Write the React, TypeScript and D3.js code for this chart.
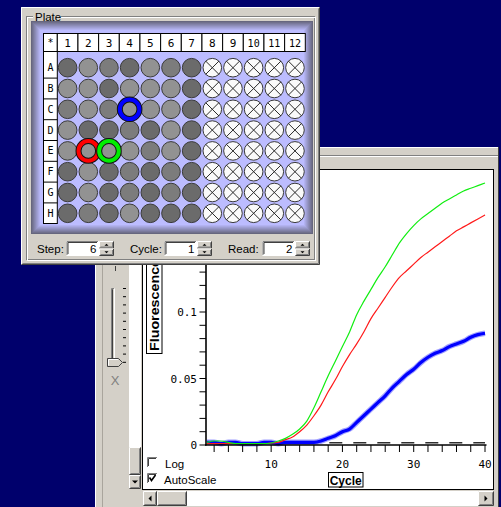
import React from "react";
import * as d3 from "d3";

// chart data
const cycles = [1, 2, 3, 4, 5, 6, 7, 8, 9, 10, 11, 12, 13, 14, 15, 16, 17, 18, 19, 20,
  21, 22, 23, 24, 25, 26, 27, 28, 29, 30, 31, 32, 33, 34, 35, 36, 37, 38, 39, 40];
const greenValues = [0.002, 0.003, 0.003, 0.002, 0.001, 0.001, 0.001, 0.001, 0.001, 0.0015,
  0.003, 0.005, 0.008, 0.012, 0.018, 0.028, 0.04, 0.052, 0.063, 0.074,
  0.085, 0.098, 0.108, 0.117, 0.126, 0.134, 0.143, 0.152, 0.159, 0.165,
  0.17, 0.174, 0.178, 0.182, 0.185, 0.188, 0.191, 0.193, 0.195, 0.197];
const redValues = [0.001, 0.001, 0.001, 0.001, 0.001, 0.001, 0.001, 0.001, 0.001, 0.0015,
  0.002, 0.004, 0.006, 0.01, 0.015, 0.022, 0.03, 0.04, 0.049, 0.059,
  0.068, 0.076, 0.085, 0.095, 0.103, 0.111, 0.119, 0.126, 0.131, 0.136,
  0.141, 0.145, 0.149, 0.153, 0.157, 0.161, 0.164, 0.167, 0.17, 0.173];
const blueValues = [0.002, 0.002, 0.001, 0.002, 0.002, 0.001, 0.001, 0.001, 0.002, 0.002,
  0.001, 0.002, 0.002, 0.002, 0.002, 0.002, 0.003, 0.005, 0.007, 0.01,
  0.012, 0.017, 0.022, 0.027, 0.032, 0.037, 0.043, 0.048, 0.053, 0.057,
  0.062, 0.066, 0.069, 0.071, 0.074, 0.076, 0.078, 0.081, 0.083, 0.084];
const threshold = 0.0017;
const xLabelTicks = [10, 20, 30, 40];
const yLabelTicks = [0, 0.05, 0.1];

// plate data
const plateRows = ["A", "B", "C", "D", "E", "F", "G", "H"];
const plateCols = ["1", "2", "3", "4", "5", "6", "7", "8", "9", "10", "11", "12"];
const wellShades = ["dlmdlmd", "lldllld", "mlmllld", "lddmdld", "llllmld", "dldmdmd", "dldmdmd", "dmdlddd"];
const shadeColors: Record<string, string> = { d: "#6b6b6b", m: "#7c7c7c", l: "#929292" };
const selectedWells = [
  { row: "C", col: "4", color: "#0000ff" },
  { row: "E", col: "2", color: "#ff0000" },
  { row: "E", col: "3", color: "#00ee00" },
];
const controls = [
  { label: "Step:", value: "6" },
  { label: "Cycle:", value: "1" },
  { label: "Read:", value: "2" },
];

const FACE = "#d4d0c8";
const SANS = "'Liberation Sans', Arial, sans-serif";
const MONO = "'DejaVu Sans Mono', monospace";

const Raised = ({ x, y, w, h }: { x: number; y: number; w: number; h: number }) => (
  <g>
    <rect x={x} y={y} width={w} height={h} fill={FACE} />
    <path d={`M${x + 0.5},${y + h - 1} V${y + 0.5} H${x + w - 1}`} stroke="#fff" fill="none" />
    <path d={`M${x + 0.5},${y + h - 0.5} H${x + w - 0.5} V${y + 0.5}`} stroke="#404040" fill="none" />
    <path d={`M${x + 1.5},${y + h - 1.5} H${x + w - 1.5} V${y + 1.5}`} stroke="#808080" fill="none" />
  </g>
);

const Sunken = ({ x, y, w, h, fill = "#fff" }: { x: number; y: number; w: number; h: number; fill?: string }) => (
  <g>
    <rect x={x} y={y} width={w} height={h} fill={fill} />
    <path d={`M${x + 0.5},${y + h - 1} V${y + 0.5} H${x + w - 1}`} stroke="#808080" fill="none" />
    <path d={`M${x + 1.5},${y + h - 2} V${y + 1.5} H${x + w - 2}`} stroke="#404040" fill="none" />
    <path d={`M${x + 0.5},${y + h - 0.5} H${x + w - 0.5} V${y + 0.5}`} stroke="#fff" fill="none" />
  </g>
);

const tri = (cx: number, cy: number, dir: string, s = 3) => {
  if (dir === "up") return `M${cx - s},${cy + s / 2} L${cx + s},${cy + s / 2} L${cx},${cy - s / 2}Z`;
  if (dir === "down") return `M${cx - s},${cy - s / 2} L${cx + s},${cy - s / 2} L${cx},${cy + s / 2}Z`;
  if (dir === "left") return `M${cx + s / 2},${cy - s} L${cx + s / 2},${cy + s} L${cx - s / 2},${cy}Z`;
  return `M${cx - s / 2},${cy - s} L${cx - s / 2},${cy + s} L${cx + s / 2},${cy}Z`;
};

export default function App() {
  const x = d3.scaleLinear().domain([1, 40]).range([207, 485]);
  const y = d3.scaleLinear().domain([0, 0.2]).range([445, 179]);
  const line = d3
    .line<number>()
    .x((d, i) => x(cycles[i]))
    .y((d) => y(d))
    .curve(d3.curveMonotoneX);

  const col = d3.scaleBand<string>().domain(plateCols).range([57.3, 305.3]);
  const row = d3.scaleBand<string>().domain(plateRows).range([57.3, 223.7]);
  const cw = col.bandwidth();
  const rh = row.bandwidth();
  const r = 9.3;

  const bevel = d3.range(10).map((i) => d3.interpolateRgb("#66667e", "#bcbcff")(i / 9));

  return (
    <svg width={501} height={507} style={{ position: "absolute", left: 0, top: 0, display: "block" }}>
      <defs>
        <clipPath id="plotClip">
          <rect x={143} y={170} width={350} height={319} />
        </clipPath>
      </defs>
      <rect width={501} height={507} fill="#00006c" />

      {/* ---------- amplification window ---------- */}
      <rect x={95} y={147} width={404} height={360} fill={FACE} />
      <line x1={95} x2={499} y1={147.5} y2={147.5} stroke="#fff" />
      <line x1={95.5} x2={95.5} y1={147} y2={507} stroke="#fff" />
      <line x1={498.5} x2={498.5} y1={147} y2={507} stroke="#404040" />
      <line x1={96} x2={498} y1={155.5} y2={155.5} stroke="#808080" />
      <line x1={96} x2={498} y1={156.5} y2={156.5} stroke="#fff" />
      <line x1={102.5} x2={102.5} y1={157} y2={507} stroke="#a9a59d" />

      {/* slider */}
      <path d="M115.5,266 V271" stroke="#404040" />
      <Sunken x={111} y={288} w={4} h={78} fill={FACE} />
      {d3.range(10).map((i) => (
        <line key={i} x1={123} x2={126} y1={288.5 + i * 8.2} y2={288.5 + i * 8.2} stroke="#000" />
      ))}
      <path d="M107.5,358.5 H118.5 L122.5,362.5 L118.5,366.5 H107.5 Z" fill={FACE} stroke="#404040" />
      <path d="M108.5,365.5 V359.5 H118" stroke="#fff" fill="none" />
      <text x={115} y={385} textAnchor="middle" fontFamily={SANS} fontSize={13} fill="#808080">X</text>

      {/* vertical scrollbar */}
      <rect x={129} y={157} width={12} height={290} fill="#fff" />
      <Raised x={129} y={447} w={12} h={28} />
      <Raised x={129} y={475} w={12} h={14} />
      <path d={tri(135, 482, "down", 3)} fill="#000" />

      {/* chart panel */}
      <rect x={142.5} y={169.5} width={351} height={320} fill="#fff" stroke="#000" />

      {/* horizontal scrollbar */}
      <rect x={143} y={491} width={351} height={15} fill="#fff" />
      <Raised x={143} y={491} w={14} h={15} />
      <path d={tri(150, 498.5, "left", 3)} fill="#000" />
      <Raised x={157} y={491} w={30} h={15} />
      <Raised x={478} y={491} w={16} h={15} />
      <path d={tri(486, 498.5, "right", 3)} fill="#000" />

      {/* threshold */}
      <line x1={x(1)} x2={x(40)} y1={y(threshold)} y2={y(threshold)} stroke="#303030" strokeWidth={1.3}
        strokeDasharray="13 11" strokeDashoffset={21.7} />

      {/* curves */}
      <g clipPath="url(#plotClip)" fill="none">
        <path d={line(blueValues) ?? ""} stroke="#7777ff" strokeWidth={5.5} strokeOpacity={0.7} />
        <path d={line(blueValues) ?? ""} stroke="#0000ff" strokeWidth={3.2} />
        <path d={line(redValues) ?? ""} stroke="#ff1a1a" strokeWidth={1.2} />
        <path d={line(greenValues) ?? ""} stroke="#11ee11" strokeWidth={1.2} />
      </g>

      {/* axes */}
      <line x1={206} x2={206} y1={y(0.2)} y2={y(0) + 0.5} stroke="#000" strokeWidth={1.6} />
      <line x1={205} x2={486.5} y1={y(0)} y2={y(0)} stroke="#000" strokeWidth={1.6} />
      {y.ticks(20).map((t) => (
        <line key={t} x1={199.5} x2={206} y1={y(t)} y2={y(t)} stroke="#000" />
      ))}
      {yLabelTicks.map((t) => (
        <text key={t} x={197} y={y(t) + 4} textAnchor="end" fontFamily={MONO} fontSize={11} fill="#000">
          {d3.format("~g")(t)}
        </text>
      ))}
      {x.ticks(20).map((t) => (
        <line key={t} x1={x(t)} x2={x(t)} y1={y(0)} y2={y(0) + 7} stroke="#000" />
      ))}
      {xLabelTicks.map((t) => (
        <text key={t} x={x(t)} y={468} textAnchor="middle" fontFamily={MONO} fontSize={11} fill="#000">
          {t}
        </text>
      ))}

      {/* axis titles */}
      <rect x={146.5} y={240.5} width={15.5} height={113} fill="#fff" stroke="#000" />
      <text transform="translate(158.5,351) rotate(-90)" fontFamily={SANS} fontSize={12.5} fontWeight="bold"
        textLength={92} lengthAdjust="spacingAndGlyphs" fill="#000">
        Fluorescence
      </text>
      <rect x={328.5} y={472.5} width={34.5} height={14.5} fill="#fff" stroke="#000" />
      <text x={345.7} y={484.5} textAnchor="middle" fontFamily={SANS} fontSize={12} fontWeight="bold" fill="#000">
        Cycle
      </text>

      {/* checkboxes */}
      <Sunken x={147} y={457} w={11} h={11} />
      <text x={165} y={467.5} fontFamily={SANS} fontSize={11.5} fill="#000">Log</text>
      <Sunken x={147} y={473} w={11} h={11} />
      <path d="M149.5,477.5 L151.5,480.5 L155.5,475" stroke="#000" strokeWidth={1.6} fill="none" />
      <text x={164} y={483.5} fontFamily={SANS} fontSize={11.5} fill="#000">AutoScale</text>

      {/* ---------- plate window ---------- */}
      <rect x={21} y={7} width={299} height={258} fill={FACE} />
      <path d="M21.5,264 V7.5 H319" stroke="#fff" fill="none" />
      <path d="M21.5,264.5 H319.5 V7.5" stroke="#404040" fill="none" />
      <path d="M22.5,263.5 H318.5 V8.5" stroke="#808080" fill="none" />
      <rect x={26.5} y={16.5} width={288} height={243} fill="none" stroke="#808080" />
      <rect x={27.5} y={17.5} width={288} height={243} fill="none" stroke="#fff" />
      <rect x={33} y={12} width={28} height={10} fill={FACE} />
      <text x={35} y={20.5} fontFamily={SANS} fontSize={11.5} fill="#000">Plate</text>

      {bevel.map((c, i) => (
        <rect key={i} x={31.5 + i} y={21.5 + i} width={281 - 2 * i} height={212 - 2 * i} fill="none" stroke={c} />
      ))}
      <rect x={41} y={31} width={263} height={193} fill="#bcbcff" />

      {/* header cells */}
      <rect x={43.5} y={33.5} width={13.8} height={18} fill="#fff" stroke="#000" />
      <text x={50.4} y={46} textAnchor="middle" fontFamily={MONO} fontSize={10} fill="#000">*</text>
      {plateCols.map((c) => (
        <g key={c}>
          <rect x={col(c)!} y={33.5} width={cw} height={18} fill="#fff" stroke="#000" />
          <text x={col(c)! + cw / 2} y={46.5} textAnchor="middle" fontFamily={MONO} fontSize={c.length > 1 ? 10 : 11}
            fill="#000">{c}</text>
        </g>
      ))}
      <rect x={43.5} y={51.5} width={13.8} height={172} fill="#fff" stroke="#000" />
      {plateRows.map((rw) => (
        <g key={rw}>
          {rw !== "A" && (
            <line x1={43.5} x2={57.3} y1={row(rw)!} y2={row(rw)!} stroke="#000" />
          )}
          <text x={50.4} y={row(rw)! + rh / 2 + 3.5} textAnchor="middle" fontFamily={MONO} fontSize={10}
            fill="#000">{rw}</text>
        </g>
      ))}

      {/* wells */}
      {plateRows.map((rw, ri) =>
        plateCols.map((c, ci) => {
          const cx = col(c)! + cw / 2;
          const cy = row(rw)! + rh / 2;
          const shade = wellShades[ri][ci];
          if (shade) {
            return <circle key={rw + c} cx={cx} cy={cy} r={r} fill={shadeColors[shade]} stroke="#3a3a3a" />;
          }
          const k = r * 0.72;
          return (
            <g key={rw + c}>
              <circle cx={cx} cy={cy} r={r} fill="#fafafa" stroke="#3a3a3a" />
              <path d={`M${cx - k},${cy - k} L${cx + k},${cy + k} M${cx + k},${cy - k} L${cx - k},${cy + k}`}
                stroke="#2a2a2a" />
            </g>
          );
        })
      )}
      {selectedWells.map((s) => {
        const cx = col(s.col)! + cw / 2;
        const cy = row(s.row)! + rh / 2;
        return (
          <g key={s.row + s.col}>
            <circle cx={cx} cy={cy} r={9.8} fill="none" stroke="#111" strokeWidth={6} />
            <circle cx={cx} cy={cy} r={9.8} fill="none" stroke={s.color} strokeWidth={4} />
          </g>
        );
      })}

      {/* step / cycle / read */}
      {controls.map((ctl, i) => {
        const lx = [37, 130, 228][i];
        const bx = [66.5, 164.5, 262.5][i];
        return (
          <g key={ctl.label}>
            <text x={lx} y={252.5} fontFamily={SANS} fontSize={11.5} fill="#000">{ctl.label}</text>
            <Sunken x={bx} y={241} w={32.5} h={15} />
            <text x={bx + 30} y={252.5} textAnchor="end" fontFamily={SANS} fontSize={11.5} fill="#000">{ctl.value}</text>
            <Raised x={bx + 32.5} y={241} w={15} h={7.5} />
            <Raised x={bx + 32.5} y={248.5} w={15} h={7.5} />
            <path d={tri(bx + 40, 244.7, "up", 2)} fill="#000" />
            <path d={tri(bx + 40, 252.3, "down", 2)} fill="#000" />
          </g>
        );
      })}
    </svg>
  );
}
